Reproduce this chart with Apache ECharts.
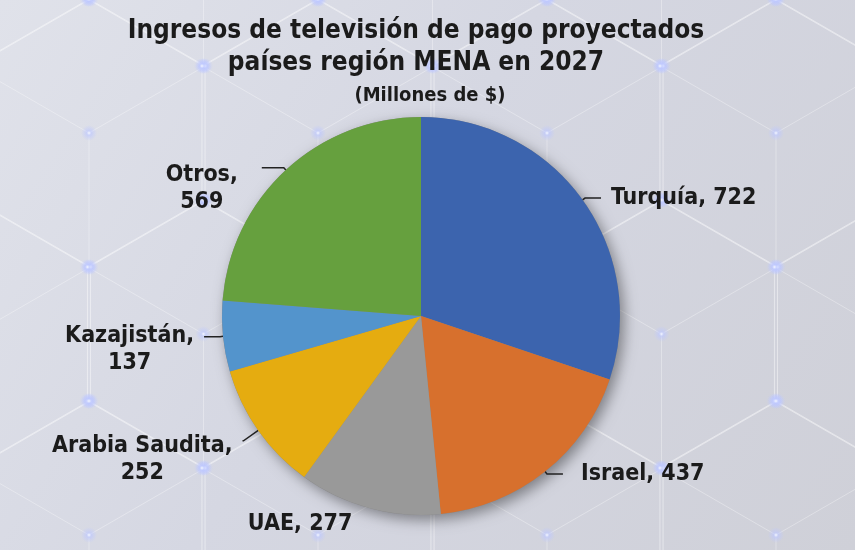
<!DOCTYPE html>
<html>
<head>
<meta charset="utf-8">
<title>Ingresos de televisión de pago</title>
<script src="https://cdn.jsdelivr.net/npm/echarts@6/dist/echarts.min.js"></script>
<style>html,body{margin:0;padding:0;}#main{width:855px;height:550px;}</style>
</head>
<body>
<div id="main"></div>
<script type="text/javascript">
// datos del grafico
var paises = ['Turquía', 'Israel', 'UAE', 'Arabia Saudita', 'Kazajistán', 'Otros'];
var ingresos = [722, 437, 277, 252, 137, 569];
var colores = ['#3C64AE', '#D7702D', '#999999', '#E5AC10', '#5394CC', '#66A03E'];
var dosLineas = ['Arabia Saudita', 'Kazajistán', 'Otros'];

var fuente = "'Liberation Sans Narrow', 'DejaVu Sans Condensed', 'Arial Narrow', sans-serif";

// fondo de hexagonos (decorativo)
var fondo = [];
var W = 229, R = 134, H = R * 1.5;
var brillos = [];
for (var fila = -1; fila < 4; fila++) {
    for (var col = -1; col < 6; col++) {
        var cx = -25.5 + col * W + (Math.abs(fila - 1) % 2 ? W / 2 : 0);
        var cy = 334 + (fila - 1) * H;
        var pts = [];
        for (var k = 0; k < 6; k++) {
            var a = (-90 + k * 60) * Math.PI / 180;
            pts.push([cx + R * Math.cos(a), cy + R * Math.sin(a)]);
        }
        fondo.push({
            type: 'polygon', silent: true,
            shape: { points: pts },
            style: { fill: 'none', stroke: 'rgba(255,255,255,0.45)', lineWidth: 1 }
        });
        // lineas interiores tipo cubo
        [pts[5], pts[1], pts[3]].forEach(function (p) {
            fondo.push({
                type: 'line', silent: true,
                shape: { x1: cx, y1: cy, x2: p[0], y2: p[1] },
                style: { stroke: 'rgba(255,255,255,0.32)', lineWidth: 1 }
            });
        });
        brillos.push([cx, cy]);
        pts.forEach(function (p) { brillos.push(p); });
    }
}
brillos.forEach(function (p) {
    fondo.push({
        type: 'circle', silent: true,
        shape: { cx: p[0], cy: p[1], r: 8 },
        style: {
            fill: new echarts.graphic.RadialGradient(0.5, 0.5, 0.5, [
                { offset: 0, color: 'rgba(245,248,255,1)' },
                { offset: 0.3, color: 'rgba(190,200,255,0.65)' },
                { offset: 1, color: 'rgba(190,200,255,0)' }
            ])
        }
    });
});

// ajustes de etiqueta por pais
var ajustes = {
    'Israel': { label: { distanceToLabelLine: 18 } },
    'UAE': { label: { padding: [26, 0, 0, 0], distanceToLabelLine: 0 }, labelLine: { show: false } },
    'Arabia Saudita': { label: { padding: [38, 0, 0, 0] }, labelLine: { length: 18, length2: 1 } },
    'Kazajistán': { label: { padding: [26, 0, 0, 0] } },
    'Otros': { label: { padding: [42, 0, 0, 0], distanceToLabelLine: 24 }, labelLine: { length2: 22 } }
};

var datos = paises.map(function (p, i) {
    var item = { name: p, value: ingresos[i], itemStyle: { color: colores[i] } };
    if (ajustes[p]) {
        item.label = ajustes[p].label;
        if (ajustes[p].labelLine) item.labelLine = ajustes[p].labelLine;
    }
    return item;
});

var total = ingresos.reduce(function (s, v) { return s + v; }, 0);

var myChart = echarts.init(document.getElementById('main'));
var option = {
    backgroundColor: new echarts.graphic.LinearGradient(0, 0, 1, 1, [
        { offset: 0, color: '#e0e2ea' },
        { offset: 0.45, color: '#d5d7e2' },
        { offset: 1, color: '#cfd0d8' }
    ]),
    graphic: fondo,
    title: [{
        text: 'Ingresos de televisión de pago proyectados\npaíses región MENA en 2027',
        left: 411, top: 10, textAlign: 'center',
        textStyle: { fontFamily: fuente, fontSize: 26, fontWeight: 'bold', lineHeight: 32, color: '#1b1b1b' }
    }, {
        text: '(Millones de $)',
        left: 425, top: 81, textAlign: 'center',
        textStyle: { fontFamily: fuente, fontSize: 20, fontWeight: 'bold', color: '#1b1b1b' }
    }],
    series: [{
        // sombra del disco completo
        type: 'pie',
        center: [421, 316],
        radius: 199,
        silent: true,
        animation: false,
        z: 1,
        label: { show: false },
        labelLine: { show: false },
        itemStyle: {
            color: '#888', shadowBlur: 14, shadowColor: 'rgba(0,0,0,0.4)', shadowOffsetX: 4, shadowOffsetY: 5
        },
        data: [total]
    }, {
        type: 'pie',
        center: [421, 316],
        radius: 199,
        startAngle: 90,
        clockwise: true,
        avoidLabelOverlap: false,
        animation: false,
        z: 2,
        label: {
            show: true,
            position: 'outside',
            distanceToLabelLine: 10,
            formatter: function (p) {
                if (dosLineas.indexOf(p.name) >= 0) {
                    return '{c|' + p.name + ',}\n{c|' + p.value + '}';
                }
                return '{c|' + p.name + ', ' + p.value + '}';
            },
            rich: {
                c: { align: 'center', fontFamily: fuente, fontSize: 23, fontWeight: 'bold', lineHeight: 27, color: '#1b1b1b' }
            }
        },
        labelLine: {
            show: true, length: 3, length2: 16,
            lineStyle: { color: '#222', width: 1.5 }
        },
        emphasis: { disabled: true },
        data: datos
    }]
};
myChart.setOption(option);
</script>
</body>
</html>
